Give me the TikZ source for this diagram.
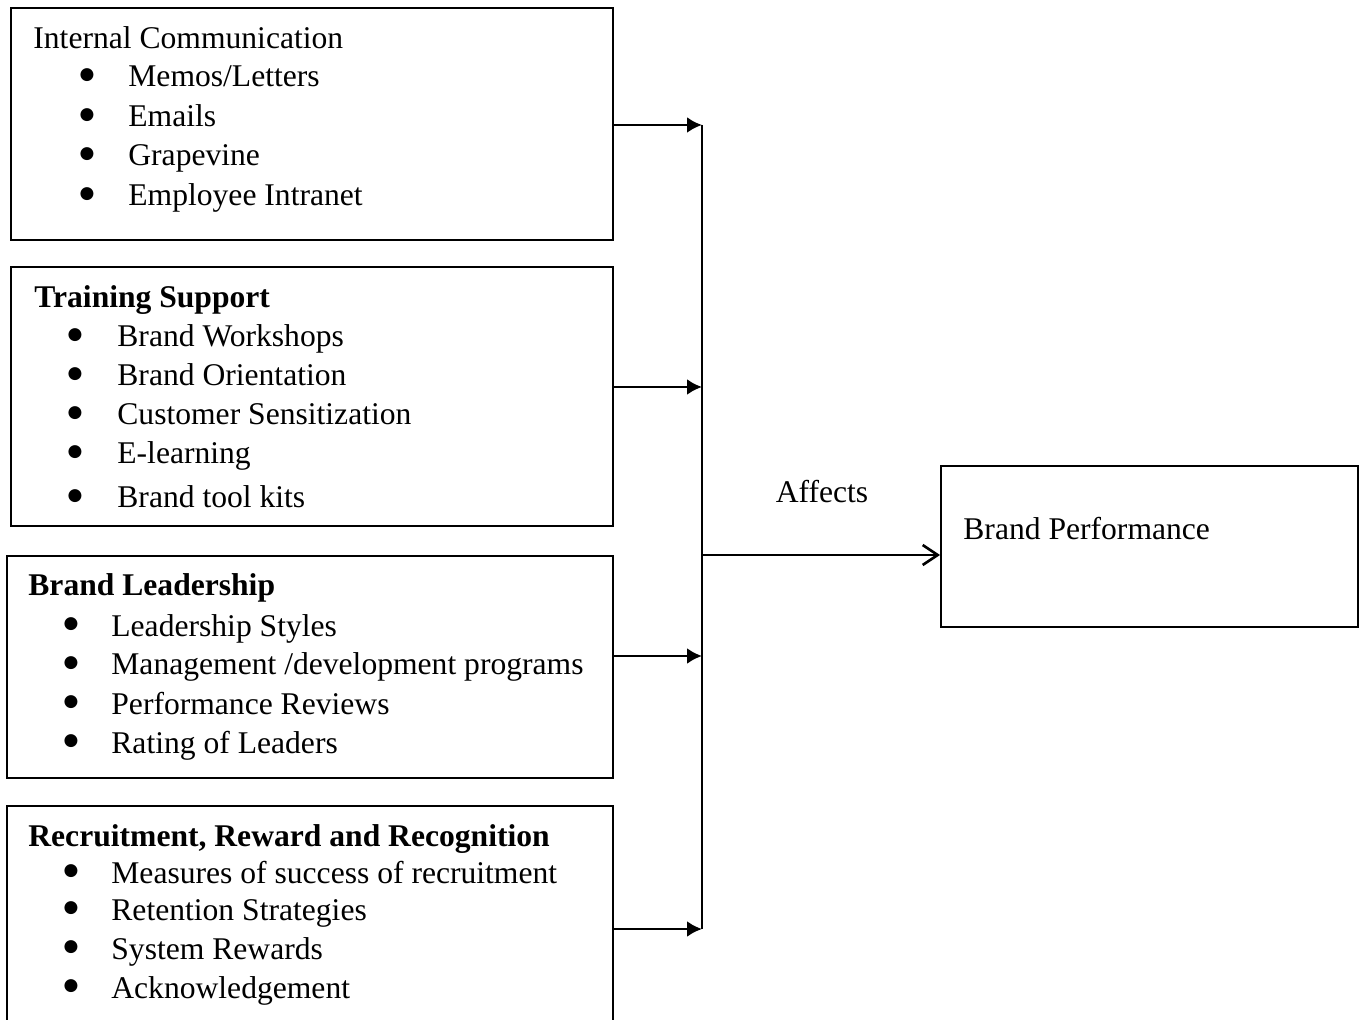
\documentclass[tikz,border=0pt]{standalone}
\usepackage{fontspec}
\setmainfont{Liberation Serif}
\newfontfamily\symfont{DejaVu Sans}
\usetikzlibrary{arrows.meta,fit}
\begin{document}
\begin{tikzpicture}[x=0.5pt,y=-0.5pt,
  boxst/.style={draw,line width=1pt,inner sep=0pt},
  txt/.style={anchor=base west,inner sep=0pt,font=\fontsize{15.8}{19}\selectfont},
  bul/.style={anchor=center,inner sep=0pt,font=\symfont\fontsize{8.5}{10}\selectfont},
  lab/.style={anchor=base,inner sep=0pt,font=\fontsize{15.8}{19}\selectfont},
  feed/.style={line width=1.3pt,-{Latex[length=7.5pt,width=8pt]}},
  bus/.style={line width=1.3pt},
  mainarr/.style={line width=1.3pt,-{Straight Barb[length=7.5pt,width=10pt,line width=1.3pt]}}]
\clip (0,0) rectangle (1364,1020);
\useasboundingbox (0,0) rectangle (1364,1020);
\fill[white] (0,0) rectangle (1364,1020);
% boxes
\node[boxst,fit={(11,8) (613,240)}] (b1) {};
\node[boxst,fit={(11,267) (613,526)}] (b2) {};
\node[boxst,fit={(7,556) (613,778)}] (b3) {};
\node[boxst,fit={(7,806) (613,1060)}] (b4) {};
\node[boxst,fit={(941,466) (1358,627)}] (bp) {};
% box 1
\node[txt] (t1) at (33,49) {Internal Communication};
\foreach \t/\y [count=\i] in {{Memos/Letters}/87, {Emails}/127, {Grapevine}/166, {Employee Intranet}/206}{
  \node[bul] (p1\i) at (87,\y-12) {●};
  \node[txt] (i1\i) at (128,\y) {\t};
}
% box 2
\node[txt,font=\fontsize{15.8}{19}\selectfont\bfseries] (t2) at (34,308) {Training Support};
\foreach \t/\y [count=\i] in {{Brand Workshops}/347, {Brand Orientation}/386, {Customer Sensitization}/425, {E-learning}/464, {Brand tool kits}/508}{
  \node[bul] (p2\i) at (75,\y-12) {●};
  \node[txt] (i2\i) at (117,\y) {\t};
}
% box 3
\node[txt,font=\fontsize{15.8}{19}\selectfont\bfseries] (t3) at (28,596) {Brand Leadership};
\foreach \t/\y [count=\i] in {{Leadership Styles}/636, {Management /development programs}/675, {Performance Reviews}/714, {Rating of Leaders}/753}{
  \node[bul] (p3\i) at (71,\y-12) {●};
  \node[txt] (i3\i) at (111,\y) {\t};
}
% box 4
\node[txt,font=\fontsize{15.8}{19}\selectfont\bfseries] (t4) at (28,846) {Recruitment, Reward and Recognition};
\foreach \t/\y [count=\i] in {{Measures of success of recruitment}/883, {Retention Strategies}/920, {System Rewards}/959, {Acknowledgement}/998}{
  \node[bul] (p4\i) at (71,\y-12) {●};
  \node[txt] (i4\i) at (111,\y) {\t};
}
% right box text
\node[txt] (tp) at (963,540) {Brand Performance};
\node[lab] (aff) at (822,503) {Affects};
% connectors
\coordinate (j1) at (702,125);
\coordinate (j2) at (702,387);
\coordinate (j3) at (702,656);
\coordinate (j4) at (702,929);
\coordinate (jm) at (702,555);
\draw[bus] (j1) -- (j4);
\draw[feed] (b1.east |- j1) -- (j1);
\draw[feed] (b2.east |- j2) -- (j2);
\draw[feed] (b3.east |- j3) -- (j3);
\draw[feed] (b4.east |- j4) -- (j4);
\draw[mainarr] (jm) -- (bp.west |- jm);
\end{tikzpicture}
\end{document}
